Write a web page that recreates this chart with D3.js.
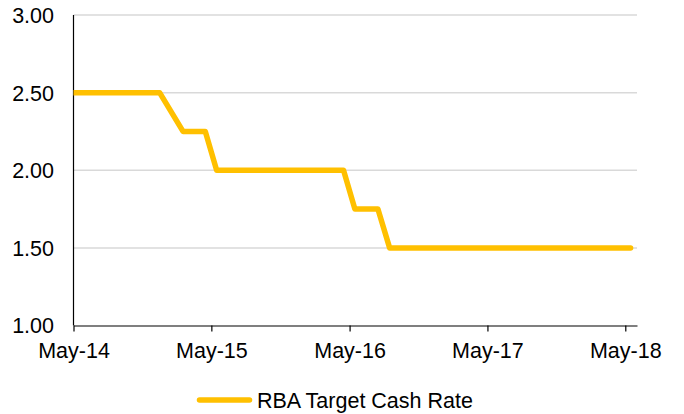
<!DOCTYPE html>
<html>
<head>
<meta charset="utf-8">
<script src="https://cdn.jsdelivr.net/npm/d3@7"></script>
<style>
  html, body { margin: 0; padding: 0; background: #ffffff; }
  svg { display: block; font-family: "Liberation Sans", Arial, Helvetica, sans-serif; }
</style>
</head>
<body>
<svg id="chart" width="684" height="414"></svg>
<script>
// ---- Data ----
const dates = [
  "2014-04-15","2014-05-15","2014-06-15","2014-07-15","2014-08-15","2014-09-15","2014-10-15","2014-11-15","2014-12-15",
  "2015-02-15","2015-03-15","2015-04-15","2015-05-15","2015-06-15","2015-07-15","2015-08-15","2015-09-15","2015-10-15","2015-11-15","2015-12-15",
  "2016-02-15","2016-03-15","2016-04-15","2016-05-15","2016-06-15","2016-07-15","2016-08-15","2016-09-15","2016-10-15","2016-11-15","2016-12-15",
  "2017-02-15","2017-03-15","2017-04-15","2017-05-15","2017-06-15","2017-07-15","2017-08-15","2017-09-15","2017-10-15","2017-11-15","2017-12-15",
  "2018-02-15","2018-03-15","2018-04-15","2018-05-15"
];
const cashRate = [
  2.50,2.50,2.50,2.50,2.50,2.50,2.50,2.50,2.50,
  2.25,2.25,2.25,2.00,2.00,2.00,2.00,2.00,2.00,2.00,2.00,
  2.00,2.00,2.00,1.75,1.75,1.75,1.50,1.50,1.50,1.50,1.50,
  1.50,1.50,1.50,1.50,1.50,1.50,1.50,1.50,1.50,1.50,1.50,
  1.50,1.50,1.50,1.50
];
const seriesName = "RBA Target Cash Rate";
const xDomain = ["2014-05-01", "2018-06-01"];
const xTickDates = ["2014-05-01","2015-05-01","2016-05-01","2017-05-01","2018-05-01"];
const yDomain = [1.0, 3.0];
const yTicks = [1.0, 1.5, 2.0, 2.5, 3.0];

(function () {
  const parse = d3.timeParse("%Y-%m-%d");
  const svg = d3.select("#chart");
  const pL = 73.5, pR = 637, pT = 15, pB = 325.5;
  const fontSize = 21.5;
  const lineColor = "#FFC000";

  const x = d3.scaleTime().domain(xDomain.map(parse)).range([pL, pR]);
  const y = d3.scaleLinear().domain(yDomain).range([pB, pT]);

  const data = dates.map((d, i) => ({ date: parse(d), value: cashRate[i] }));

  svg.append("defs").append("clipPath").attr("id", "plotClip")
    .append("rect").attr("x", pL).attr("y", pT - 10).attr("width", pR - pL + 10).attr("height", pB - pT + 20);

  // gridlines
  svg.append("g")
    .selectAll("line")
    .data(yTicks.filter(v => v > yDomain[0]))
    .join("line")
    .attr("x1", pL).attr("x2", pR)
    .attr("y1", d => y(d)).attr("y2", d => y(d))
    .attr("stroke", "#d9d9d9").attr("stroke-width", 1.5);

  // y labels
  svg.append("g")
    .selectAll("text")
    .data(yTicks)
    .join("text")
    .attr("x", 54)
    .attr("y", d => y(d))
    .attr("dy", "0.37em")
    .attr("text-anchor", "end")
    .attr("font-size", fontSize)
    .attr("fill", "#000")
    .text(d => d3.format(".2f")(d));

  // x axis
  const xAxis = d3.axisBottom(x)
    .tickValues(xTickDates.map(parse))
    .tickFormat(d3.timeFormat("%b-%y"))
    .tickSize(6)
    .tickSizeOuter(0);
  const gx = svg.append("g").attr("transform", `translate(0,${pB})`).call(xAxis);
  gx.select(".domain").attr("stroke", "#000").attr("stroke-width", 1.2);
  gx.selectAll(".tick line").attr("stroke", "#000").attr("stroke-width", 1.2);
  gx.selectAll(".tick text")
    .attr("font-size", fontSize)
    .attr("font-family", "Liberation Sans, Arial, sans-serif")
    .attr("fill", "#000")
    .attr("dy", "1.08em");

  // y axis line
  svg.append("line")
    .attr("x1", pL).attr("x2", pL)
    .attr("y1", y(yDomain[1])).attr("y2", y(yDomain[0]))
    .attr("stroke", "#000").attr("stroke-width", 1.2);

  // series line
  const line = d3.line().x(d => x(d.date)).y(d => y(d.value));
  svg.append("path")
    .datum(data)
    .attr("clip-path", "url(#plotClip)")
    .attr("d", line)
    .attr("fill", "none")
    .attr("stroke", lineColor)
    .attr("stroke-width", 5.5)
    .attr("stroke-linejoin", "round")
    .attr("stroke-linecap", "round");

  // legend
  const legend = svg.append("g");
  legend.append("line")
    .attr("x1", 199.5).attr("x2", 249.5)
    .attr("y1", 400).attr("y2", 400)
    .attr("stroke", lineColor).attr("stroke-width", 5.5)
    .attr("stroke-linecap", "round");
  legend.append("text")
    .attr("x", 257).attr("y", 400)
    .attr("dy", "0.35em")
    .attr("font-size", fontSize)
    .attr("fill", "#000")
    .text(seriesName);
})();
</script>
</body>
</html>
